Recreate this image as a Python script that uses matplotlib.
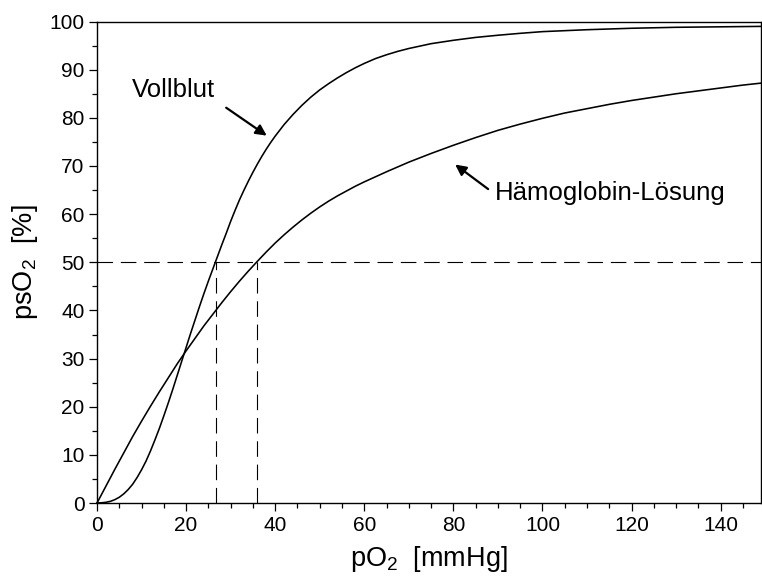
import matplotlib
matplotlib.use('Agg')
import matplotlib.pyplot as plt
from matplotlib.ticker import MultipleLocator

plt.rcParams['font.family'] = ['Liberation Sans', 'DejaVu Sans']
plt.rcParams['mathtext.fontset'] = 'custom'
plt.rcParams['mathtext.rm'] = 'Liberation Sans'
plt.rcParams['mathtext.it'] = 'Liberation Sans'

# values (pO2 in mmHg, psO2 in %)
vollblut_x = [0, 1, 2, 3, 4, 5, 6, 7, 8, 9, 10, 11, 12, 13, 14, 15, 16, 17,
              18, 19, 20, 21, 22, 23, 24, 25, 26, 27, 28, 29, 30, 31, 32, 33,
              34, 35, 36, 37, 38, 39, 40, 42, 44, 46, 48, 50, 52, 54, 56, 58,
              60, 62.5, 65, 67.5, 70, 75, 80, 85, 90, 95, 100, 110, 120, 130,
              140, 150]
vollblut_y = [0, 0.05, 0.15, 0.35, 0.7, 1.2, 1.9, 2.8, 3.9, 5.3, 6.9, 8.7,
              10.8, 13.1, 15.5, 18.1, 20.8, 23.6, 26.5, 29.4, 32.3, 35.2, 38.0,
              40.8, 43.5, 46.1, 48.6, 51.1, 53.6, 56.0, 58.5, 60.8, 63.0, 65.0,
              66.9, 68.7, 70.4, 72.0, 73.5, 74.9, 76.2, 78.6, 80.7, 82.6, 84.3,
              85.8, 87.1, 88.3, 89.4, 90.4, 91.3, 92.3, 93.1, 93.8, 94.4, 95.4,
              96.1, 96.7, 97.15, 97.55, 97.9, 98.3, 98.6, 98.8, 98.9, 99.0]

hb_x = [0, 2, 4, 6, 8, 10, 12, 14, 16, 18, 20, 22, 24, 26, 28, 30, 32, 34,
        36, 38, 40, 42, 44, 46, 48, 50, 52, 54, 56, 58, 60, 65, 70, 75, 80,
        85, 90, 95, 100, 105, 110, 115, 120, 125, 130, 135, 140, 145, 150]
hb_y = [0, 3.5, 7.0, 10.4, 13.8, 17.0, 20.1, 23.1, 26.0, 28.9, 31.6, 34.2,
        36.8, 39.2, 41.6, 43.9, 46.1, 48.2, 50.2, 52.15, 54.0, 55.7, 57.3,
        58.8, 60.2, 61.5, 62.7, 63.8, 64.8, 65.8, 66.7, 68.8, 70.8, 72.6,
        74.3, 75.9, 77.4, 78.7, 79.9, 81.0, 81.9, 82.8, 83.6, 84.3, 85.0,
        85.6, 86.2, 86.8, 87.3]

p50_vollblut = 26.7
p50_hb = 36.0
half_sat = 50

fig = plt.figure(figsize=(7.62, 5.77), dpi=100)
ax = fig.add_axes([0.1273, 0.1282, 0.8711, 0.8345])

ax.plot(vollblut_x, vollblut_y, color='black', lw=1.15, clip_on=False)
ax.plot(hb_x, hb_y, color='black', lw=1.15, clip_on=False)

dash = (0, (14, 7))
ax.axhline(half_sat, color='black', lw=0.8, linestyle=dash)
for p in [p50_vollblut, p50_hb]:
    ax.plot([p, p], [0, half_sat], color='black', lw=0.8, linestyle=dash)

ax.set_xlim(0, 149)
ax.set_ylim(0, 100)

ax.xaxis.set_major_locator(MultipleLocator(20))
ax.xaxis.set_minor_locator(MultipleLocator(5))
ax.yaxis.set_major_locator(MultipleLocator(10))
ax.yaxis.set_minor_locator(MultipleLocator(5))
ax.tick_params(which='major', direction='out', length=6, width=0.9,
               labelsize=15, pad=3)
ax.tick_params(which='minor', direction='out', length=3.5, width=0.9)
for s in ax.spines.values():
    s.set_linewidth(1.0)

ax.set_xlabel('pO$_2$  [mmHg]', fontsize=19.5, labelpad=7)
ax.set_ylabel('psO$_2$  [%]', fontsize=19.5, labelpad=7)

ax.text(7.8, 84.3, 'Vollblut', fontsize=18.5, ha='left', va='baseline')
ax.annotate('', xy=(38.1, 76.3), xytext=(29.0, 82.1),
            arrowprops=dict(arrowstyle='-|>', color='black', lw=1.6,
                            mutation_scale=16, shrinkA=0, shrinkB=0))

ax.text(89.3, 62.9, 'Hämoglobin-Lösung', fontsize=18.5, ha='left',
        va='baseline')
ax.annotate('', xy=(80.4, 70.3), xytext=(87.8, 65.2),
            arrowprops=dict(arrowstyle='-|>', color='black', lw=1.6,
                            mutation_scale=16, shrinkA=0, shrinkB=0))

fig.savefig('out.png', dpi=100)
